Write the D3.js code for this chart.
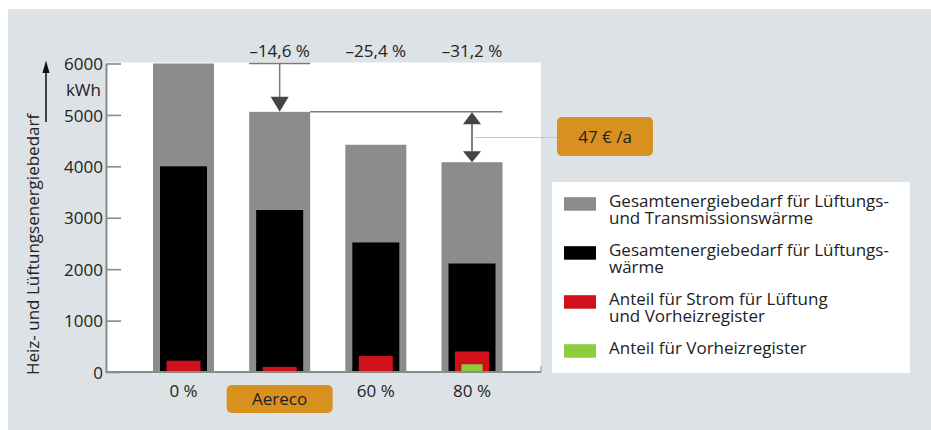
<!DOCTYPE html>
<html><head><meta charset="utf-8">
<script src="https://cdn.jsdelivr.net/npm/d3@7"></script>
<style>
html,body{margin:0;padding:0;background:#fff;}
svg text{font-family:"Open Sans",sans-serif;fill:#222;}
</style></head>
<body>
<svg id="c" width="931" height="430"></svg>
<script>
// ---- data ----
const categories = ["0 %", "Aereco", "60 %", "80 %"];
const gesamt     = [6000, 5060, 4420, 4080];   // Gesamtenergiebedarf Lüftungs- und Transmissionswärme
const lueftung   = [4000, 3150, 2520, 2110];   // Gesamtenergiebedarf Lüftungswärme
const strom      = [220, 100, 310, 400];       // Anteil Strom für Lüftung und Vorheizregister
const vorheiz    = [0, 0, 0, 150];             // Anteil Vorheizregister
const yTicks     = [0, 1000, 2000, 3000, 4000, 5000, 6000];
const reductions = ["", "–14,6 %", "–25,4 %", "–31,2 %"];
const savingLabel = "47 € /a";
const unitLabel = "kWh";
const yTitle = "Heiz- und Lüftungsenergiebedarf";
const legendItems = [
  {lines:["Gesamtenergiebedarf für Lüftungs-","und Transmissionswärme"], color:"#8c8c8a"},
  {lines:["Gesamtenergiebedarf für Lüftungs-","wärme"], color:"#000000"},
  {lines:["Anteil für Strom für Lüftung","und Vorheizregister"], color:"#d0101a"},
  {lines:["Anteil für Vorheizregister"], color:"#8dcc3c"}
];

// ---- layout ----
const FS = 17;
const svg = d3.select("#c");
const plotL = 106, plotR = 541, plotT = 62.5, plotB = 372;
const x = d3.scalePoint().domain(categories).range([183.5, 472]);
const y = d3.scaleLinear().domain([0, 6000]).range([plotB, 63.5]);
const W = {g:61, k:47, r:34, v:21};

// panel background
svg.append("rect").attr("x",8).attr("y",9).attr("width",931-8).attr("height",430-9).attr("fill","#dce2e6");
// white plot area
svg.append("rect").attr("x",plotL).attr("y",plotT).attr("width",plotR-plotL).attr("height",plotB-plotT).attr("fill","#fff");

function bars(vals, w, color){
  svg.append("g").selectAll("rect").data(categories.map((c,i)=>({c,v:vals[i]})).filter(d=>d.v>0))
    .join("rect")
    .attr("x", d=>x(d.c)-w/2).attr("width", w)
    .attr("y", d=>y(d.v)).attr("height", d=>y(0)-y(d.v))
    .attr("fill", color);
}
bars(gesamt, W.g, "#8c8c8a");
bars(lueftung, W.k, "#000");
bars(strom, W.r, "#d0101a");
bars(vorheiz, W.v, "#8dcc3c");

// y axis
const ax = svg.append("g").attr("transform",`translate(${plotL},0)`)
  .call(d3.axisLeft(y).tickValues(yTicks).tickFormat(d3.format("d")).tickSizeInner(-15).tickSizeOuter(0).tickPadding(3));
ax.select(".domain").attr("stroke","#8a8a8a").attr("stroke-width",2);
ax.selectAll(".tick line").attr("stroke","#8a8a8a").attr("stroke-width",1.6);
ax.selectAll(".tick text").attr("font-size",FS).attr("fill","#222").attr("font-family","Open Sans").attr("dy","0.36em");
// x axis line
svg.append("line").attr("x1",plotL).attr("x2",plotR).attr("y1",plotB).attr("y2",plotB).attr("stroke","#8a8a8a").attr("stroke-width",2);
svg.append("line").attr("x1",plotR).attr("x2",plotR).attr("y1",plotB-6).attr("y2",plotB).attr("stroke","#8a8a8a").attr("stroke-width",1);

// unit
svg.append("text").attr("x",101).attr("y",96).attr("text-anchor","end").attr("font-size",FS).text(unitLabel);
// y title
svg.append("text").attr("transform","translate(39,375) rotate(-90)").attr("font-size",FS).text(yTitle);
// arrow up
svg.append("line").attr("x1",46).attr("x2",46).attr("y1",122).attr("y2",70).attr("stroke","#111").attr("stroke-width",1.5);
svg.append("path").attr("d","M42.5,73 L46,60.5 L49.5,73 Z").attr("fill","#111");

// category labels
categories.forEach((c,i)=>{
  if(c==="Aereco"){
    svg.append("rect").attr("x",x(c)-53).attr("y",385).attr("width",106).attr("height",28).attr("rx",5).attr("fill","#d8901f");
  }
  svg.append("text").attr("x",x(c)).attr("y",c==="Aereco"?404.5:397).attr("text-anchor","middle").attr("font-size",FS).text(c);
});

// reduction labels
reductions.forEach((r,i)=>{
  if(!r) return;
  svg.append("text").attr("x",x(categories[i])).attr("y",57).attr("text-anchor","middle").attr("font-size",FS).text(r);
});

// annotation: arrow from 6000 to Aereco
const xa = x(categories[1]);
svg.append("line").attr("x1",xa-W.g/2).attr("x2",xa+W.g/2).attr("y1",y(6000)).attr("y2",y(6000)).attr("stroke","#7a7a7a").attr("stroke-width",1.5);
svg.append("line").attr("x1",xa).attr("x2",xa).attr("y1",y(6000)).attr("y2",y(gesamt[1])-12).attr("stroke","#7a7a7a").attr("stroke-width",1.5);
svg.append("path").attr("d",`M${xa-9},${y(gesamt[1])-15} L${xa+9},${y(gesamt[1])-15} L${xa},${y(gesamt[1])} Z`).attr("fill","#444");

// annotation: double arrow Aereco level to 80 %
const x3 = x(categories[3]);
svg.append("line").attr("x1",xa+W.g/2).attr("x2",x3+W.g/2).attr("y1",y(gesamt[1])).attr("y2",y(gesamt[1])).attr("stroke","#7a7a7a").attr("stroke-width",1.5);
const ytop = y(gesamt[1]), ybot = y(gesamt[3]);
svg.append("line").attr("x1",x3).attr("x2",x3).attr("y1",ytop+12).attr("y2",ybot-11).attr("stroke","#555").attr("stroke-width",1.5);
svg.append("path").attr("d",`M${x3-9},${ytop+12.5} L${x3+9},${ytop+12.5} L${x3},${ytop+0.5} Z`).attr("fill","#444");
svg.append("path").attr("d",`M${x3-9},${ybot-11} L${x3+9},${ybot-11} L${x3},${ybot} Z`).attr("fill","#444");
// leader to badge
svg.append("line").attr("x1",x3+2).attr("x2",557).attr("y1",137.5).attr("y2",137.5).attr("stroke","#dccb7e").attr("stroke-width",1.2);
svg.append("rect").attr("x",557).attr("y",117).attr("width",96).attr("height",39).attr("rx",5).attr("fill","#d8901f");
svg.append("text").attr("x",605).attr("y",143).attr("text-anchor","middle").attr("font-size",FS).text(savingLabel);

// legend
svg.append("rect").attr("x",552).attr("y",182).attr("width",358).attr("height",191).attr("fill","#fff");
let by = 206.7;
legendItems.forEach(it=>{
  svg.append("rect").attr("x",564).attr("y",by-9.5).attr("width",32).attr("height",13.5).attr("fill",it.color);
  const t = svg.append("text").attr("x",609).attr("y",by).attr("font-size",FS);
  it.lines.forEach((l,j)=>{
    t.append("tspan").attr("x",609).attr("dy", j===0?0:17.5).text(l);
  });
  by += (it.lines.length-1)*17.5 + 31.5;
});
</script>
</body></html>
